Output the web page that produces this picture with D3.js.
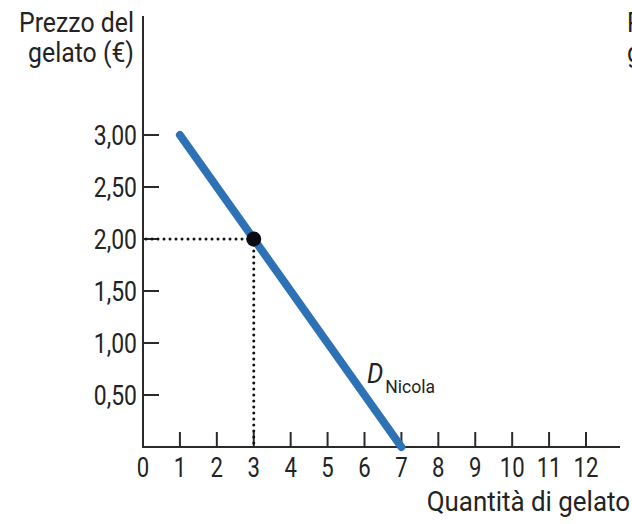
<!DOCTYPE html>
<html><head><meta charset="utf-8">
<script src="https://cdn.jsdelivr.net/npm/d3@7"></script>
<style>
html,body{margin:0;padding:0;background:#fff;}
text{font-family:Roboto,"Liberation Sans",sans-serif;fill:#232323;}
</style></head>
<body>
<script>
// Data
const xTicks = [1,2,3,4,5,6,7,8,9,10,11,12];
const xTickLabels = ["0","1","2","3","4","5","6","7","8","9","10","11","12"];
const yTicks = [0.5,1.0,1.5,2.0,2.5,3.0];
const yTickLabels = ["0,50","1,00","1,50","2,00","2,50","3,00"];
const demandQty = [1,7];
const demandPrice = [3.0,0.0];
const pointQty = [3];
const pointPrice = [2.0];
const yTitle = ["Prezzo del","gelato (€)"];
const xTitle = "Quantità di gelato";
const curveLabel = "D";
const curveSub = "Nicola";

const W = 632, H = 524;
const svg = d3.select("body").append("svg").attr("width",W).attr("height",H);

const x = d3.scaleLinear().domain([0,12]).range([143,586]);
const y = d3.scaleLinear().domain([0,3]).range([447,135]);
const axisColor = "#2a2a2a";

function txt(g, tx, ty, s, opts){
  opts = opts || {};
  const t = g.append("text")
    .attr("transform",`translate(${tx},${ty}) scale(${opts.sx||0.9},1)`)
    .attr("text-anchor",opts.anchor||"start")
    .attr("font-size",opts.size||27)
    .text(s);
  return t;
}

// axes lines
svg.append("line").attr("x1",x(0)).attr("x2",x(0)).attr("y1",16).attr("y2",y(0))
  .attr("stroke",axisColor).attr("stroke-width",2);
svg.append("line").attr("x1",x(0)-1).attr("x2",620).attr("y1",y(0)).attr("y2",y(0))
  .attr("stroke",axisColor).attr("stroke-width",2);

// x ticks
svg.selectAll(".xt").data(xTicks).enter().append("line")
  .attr("x1",d=>x(d)).attr("x2",d=>x(d)).attr("y1",y(0)).attr("y2",y(0)-15)
  .attr("stroke",axisColor).attr("stroke-width",2);
xTickLabels.forEach((s,i)=>txt(svg, x(i), 477, s, {anchor:"middle", sx:0.82}));

// y ticks
svg.selectAll(".yt").data(yTicks).enter().append("line")
  .attr("x1",x(0)).attr("x2",x(0)+16).attr("y1",d=>y(d)).attr("y2",d=>y(d))
  .attr("stroke",axisColor).attr("stroke-width",2);
yTicks.forEach((v,i)=>txt(svg, 137, y(v)+10, yTickLabels[i], {anchor:"end", sx:0.85}));

// titles
yTitle.forEach((s,i)=>txt(svg, 134, 32+i*30, s, {anchor:"end", sx:0.92}));
yTitle.forEach((s,i)=>txt(svg, 627, 32+i*30, s, {anchor:"start", sx:0.92}));
txt(svg, 630, 511, xTitle, {anchor:"end", sx:0.96});
txt(svg, 0.5, 511, xTitle, {anchor:"end", sx:0.96});

// dotted guides
svg.append("line").attr("x1",x(0)+3).attr("x2",x(pointQty[0])).attr("y1",y(pointPrice[0])).attr("y2",y(pointPrice[0]))
  .attr("stroke","#111").attr("stroke-width",3).attr("stroke-dasharray","0,6").attr("stroke-linecap","round");
svg.append("line").attr("x1",x(pointQty[0])).attr("x2",x(pointQty[0])).attr("y1",y(pointPrice[0])).attr("y2",y(0)-2)
  .attr("stroke","#111").attr("stroke-width",3).attr("stroke-dasharray","0,6").attr("stroke-linecap","round");

// demand line
const pts = demandQty.map((q,i)=>[q,demandPrice[i]]);
svg.append("path").datum(pts)
  .attr("d",d3.line().x(d=>x(d[0])).y(d=>y(d[1])))
  .attr("fill","none").attr("stroke","#2e72b6").attr("stroke-width",8).attr("stroke-linecap","round");

// point
svg.selectAll(".pt").data(pointQty).enter().append("circle")
  .attr("cx",d=>x(d)).attr("cy",(d,i)=>y(pointPrice[i])).attr("r",7.5).attr("fill","#0a0a14");

// curve label
const lbl = svg.append("text").attr("transform","translate(367,383) scale(0.95,1)").attr("font-size",27);
lbl.append("tspan").attr("font-style","italic").text(curveLabel);
lbl.append("tspan").attr("font-size",18.5).attr("dy",10).attr("dx",2).text(curveSub);
</script>
</body></html>
